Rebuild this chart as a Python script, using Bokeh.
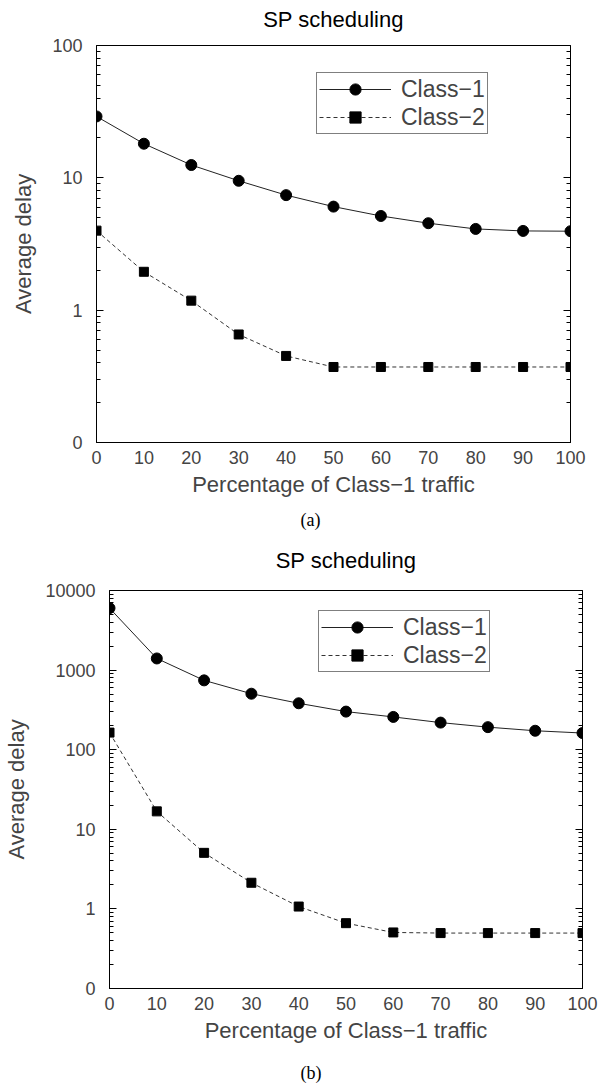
from bokeh.plotting import figure
from bokeh.models import (Range1d, FixedTicker, LogAxis, LinearAxis, Legend, LegendItem,
                          Title, CustomJSTickFormatter)
from bokeh.embed import file_html
from bokeh.resources import INLINE

# Percentage of Class-1 traffic (x axis)
traffic_pct = [0, 10, 20, 30, 40, 50, 60, 70, 80, 90, 100]
x_tick_labels = ["0", "10", "20", "30", "40", "50", "60", "70", "80", "90", "100"]

# Panel (a): average delay per class
delay_a_class1 = [29.1, 18.1, 12.5, 9.5, 7.4, 6.06, 5.15, 4.54, 4.11, 3.97, 3.95]
delay_a_class2 = [3.99, 1.95, 1.18, 0.655, 0.451, 0.372, 0.372, 0.372, 0.372, 0.372, 0.372]

# Panel (b): average delay per class
delay_b_class1 = [6010, 1400, 743, 505, 383, 301, 258, 219, 192, 173, 162]
delay_b_class2 = [164, 16.8, 5.06, 2.13, 1.07, 0.662, 0.506, 0.497, 0.497, 0.497, 0.497]

# Log-axis ticks; the bottom decade is labelled "0"
y_ticks_a = [0.1, 1, 10, 100]
y_tick_labels_a = ["0", "1", "10", "100"]
y_ticks_b = [0.1, 1, 10, 100, 1000, 10000]
y_tick_labels_b = ["0", "1", "10", "100", "1000", "10000"]

SANS = "Liberation Sans"
SERIF = "Liberation Serif"


def minor_ticks(majors):
    out = []
    for m in majors[:-1]:
        out += [m * k for k in range(2, 10)]
    return out


def gap_axis(size):
    """An invisible axis that only reserves `size` pixels in a side panel."""
    return LinearAxis(ticker=FixedTicker(ticks=[50]),
                      formatter=CustomJSTickFormatter(code="return ''"),
                      axis_line_color=None,
                      major_tick_in=0, major_tick_out=size, major_tick_line_color=None,
                      minor_tick_in=0, minor_tick_out=0, minor_tick_line_color=None,
                      major_label_standoff=0, major_label_text_font_size="0px")


def make_panel(c1, c2, yticks, ylabels, caption, borders, legend_loc,
               title_gap, caption_gap, caption_left):
    left, right, top, bottom = borders
    p = figure(width=603, height=543,
               x_range=Range1d(0, 100),
               y_range=Range1d(yticks[0], yticks[-1]),
               y_axis_type="log",
               output_backend="svg", toolbar_location=None,
               min_border_left=left, min_border_right=right,
               min_border_top=top, min_border_bottom=bottom,
               background_fill_color="white", border_fill_color="white")
    p.title_location = None

    p.grid.visible = False
    p.outline_line_color = "black"
    p.outline_line_width = 1

    # x axis: labels only, no ticks
    xa = p.xaxis[0]
    xa.ticker = FixedTicker(ticks=traffic_pct)
    xa.major_label_overrides = dict(zip(traffic_pct, x_tick_labels))
    xa.major_tick_in = 0
    xa.major_tick_out = 0
    xa.minor_tick_in = 0
    xa.minor_tick_out = 0
    xa.axis_line_color = "black"
    xa.major_label_text_font = SANS
    xa.major_label_text_font_size = "18px"
    xa.major_label_standoff = 8
    xa.axis_label = "Percentage of Class\u22121 traffic"
    xa.axis_label_text_font = SANS
    xa.axis_label_text_font_size = "22px"
    xa.axis_label_text_font_style = "normal"
    xa.axis_label_standoff = 5

    yt = FixedTicker(ticks=yticks, minor_ticks=minor_ticks(yticks))
    ya = p.yaxis[0]
    ya.ticker = yt
    ya.major_label_overrides = dict(zip(yticks, ylabels))
    ya.major_tick_in = 7
    ya.major_tick_out = 0
    ya.minor_tick_in = 4
    ya.minor_tick_out = 0
    ya.axis_line_color = "black"
    ya.major_label_text_font = SANS
    ya.major_label_text_font_size = "18px"
    ya.major_label_standoff = 14
    ya.axis_label = "Average delay"
    ya.axis_label_text_font = SANS
    ya.axis_label_text_font_size = "22px"
    ya.axis_label_text_font_style = "normal"
    ya.axis_label_standoff = 13

    # mirrored ticks on the right edge
    ra = LogAxis(ticker=yt, formatter=CustomJSTickFormatter(code="return ''"),
                 major_tick_in=7, major_tick_out=0, minor_tick_in=4, minor_tick_out=0,
                 major_label_standoff=0, axis_line_color="black")
    p.add_layout(ra, "right")

    l1 = p.line(traffic_pct, c1, line_color="#222222", line_width=1)
    m1 = p.scatter(traffic_pct, c1, marker="circle", size=11,
                   fill_color="black", line_color="black")
    l2 = p.line(traffic_pct, c2, line_color="#333333", line_width=1, line_dash="4 3")
    m2 = p.scatter(traffic_pct, c2, marker="square", size=9,
                   fill_color="black", line_color="black")

    legend = Legend(items=[LegendItem(label="Class\u22121", renderers=[l1, m1]),
                           LegendItem(label="Class\u22122", renderers=[l2, m2])],
                    location=legend_loc,
                    label_text_font=SANS, label_text_font_size="23px",
                    glyph_width=72, glyph_height=28, label_height=28,
                    label_standoff=10, padding=2, spacing=0, margin=0,
                    border_line_color="black", border_line_width=1,
                    background_fill_color="white", background_fill_alpha=1)
    p.add_layout(legend)

    # heading: a gap next to the frame, then the title text
    p.add_layout(gap_axis(title_gap), "above")
    p.add_layout(Title(text="SP scheduling", align="center", text_font=SANS,
                       text_font_size="22px", text_font_style="normal",
                       text_color="black", standoff=0), "above")

    # caption under the axis title
    p.add_layout(gap_axis(caption_gap), "below")
    p.add_layout(Title(text=caption, align="left", text_font=SERIF,
                       text_font_size="18px", text_font_style="normal",
                       text_color="black", offset=caption_left - left,
                       standoff=0), "below")
    return p


pa = make_panel(delay_a_class1, delay_a_class2, y_ticks_a, y_tick_labels_a, "(a)",
                (96, 33, 45, 101), (220, 308), 14, 8, 300)
pb = make_panel(delay_b_class1, delay_b_class2, y_ticks_b, y_tick_labels_b, "(b)",
                (109, 21, 47, 98), (209, 316), 18, 15, 300)

open("out.html", "w").write(file_html([pa, pb], INLINE))
